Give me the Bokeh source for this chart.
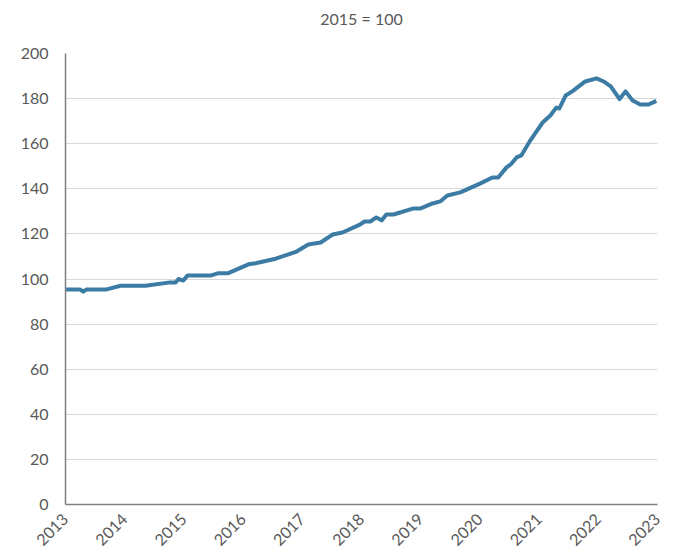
import math
from bokeh.plotting import figure
from bokeh.models import FixedTicker, Range1d
from bokeh.embed import file_html
from bokeh.resources import INLINE

years = [2013.00, 2013.25, 2013.30, 2013.35, 2013.68, 2013.93, 2014.35, 2014.77, 2014.86, 2014.91,
         2014.99, 2015.06, 2015.45, 2015.57, 2015.74, 2016.09, 2016.21, 2016.55, 2016.89, 2017.10,
         2017.31, 2017.51, 2017.68, 2017.98, 2018.05, 2018.15, 2018.25, 2018.34, 2018.42, 2018.54,
         2018.88, 2019.00, 2019.20, 2019.33, 2019.45, 2019.67, 2020.01, 2020.21, 2020.31, 2020.45,
         2020.52, 2020.62, 2020.70, 2020.85, 2021.06, 2021.19, 2021.29, 2021.34, 2021.45, 2021.56,
         2021.78, 2021.97, 2022.09, 2022.21, 2022.36, 2022.46, 2022.58, 2022.71, 2022.85, 2022.98]
index = [95.3, 95.3, 94.4, 95.3, 95.3, 97.0, 97.0, 98.5, 98.5, 100.0,
         99.3, 101.5, 101.5, 102.5, 102.5, 106.5, 107.0, 109.0, 112.0, 115.3,
         116.2, 119.7, 120.6, 124.2, 125.5, 125.5, 127.3, 126.0, 128.6, 128.6,
         131.3, 131.3, 133.5, 134.4, 137.0, 138.4, 142.4, 145.0, 145.0, 149.5,
         150.8, 153.9, 154.8, 161.4, 169.4, 172.5, 176.0, 175.6, 181.4, 183.2,
         187.6, 189.0, 187.6, 185.4, 179.8, 183.2, 179.2, 177.4, 177.4, 179.0]
year_ticks = list(range(2013, 2024))
y_ticks = list(range(0, 201, 20))
title_text = "2015 = 100"

FONT = "Lato"
GREY = "#595959"

p = figure(width=667, height=554, output_backend="svg", toolbar_location=None,
           x_range=Range1d(2013, 2023), y_range=Range1d(0, 200),
           min_border_left=65, min_border_right=10, min_border_top=53, min_border_bottom=50)
p.title.text = title_text
p.title.align = "center"
p.title.text_font = FONT
p.title.text_font_size = "16px"
p.title.text_font_style = "normal"
p.title.text_color = GREY
try:
    p.title.padding = dict(left=0, right=0, top=0, bottom=21)
except Exception:
    pass
p.outline_line_color = None

p.line(years, index, line_color="#3c7ca4", line_width=4, line_join="round")

p.xaxis.ticker = FixedTicker(ticks=year_ticks)
p.xaxis.major_label_orientation = math.pi / 4
p.yaxis.ticker = FixedTicker(ticks=y_ticks)
for ax in (p.xaxis, p.yaxis):
    ax.axis_line_color = "#808080"
    ax.axis_line_width = 1.5
    ax.major_tick_line_color = None
    ax.minor_tick_line_color = None
    ax.major_tick_out = 0
    ax.major_label_text_font = FONT
    ax.major_label_text_font_size = "16px"
    ax.major_label_text_color = GREY
p.yaxis.major_label_standoff = 17
p.xaxis.major_label_standoff = 12

p.xgrid.grid_line_color = None
p.ygrid.grid_line_color = "#d9d9d9"
p.ygrid.grid_line_width = 1

open("out.html", "w").write(file_html(p, INLINE))
